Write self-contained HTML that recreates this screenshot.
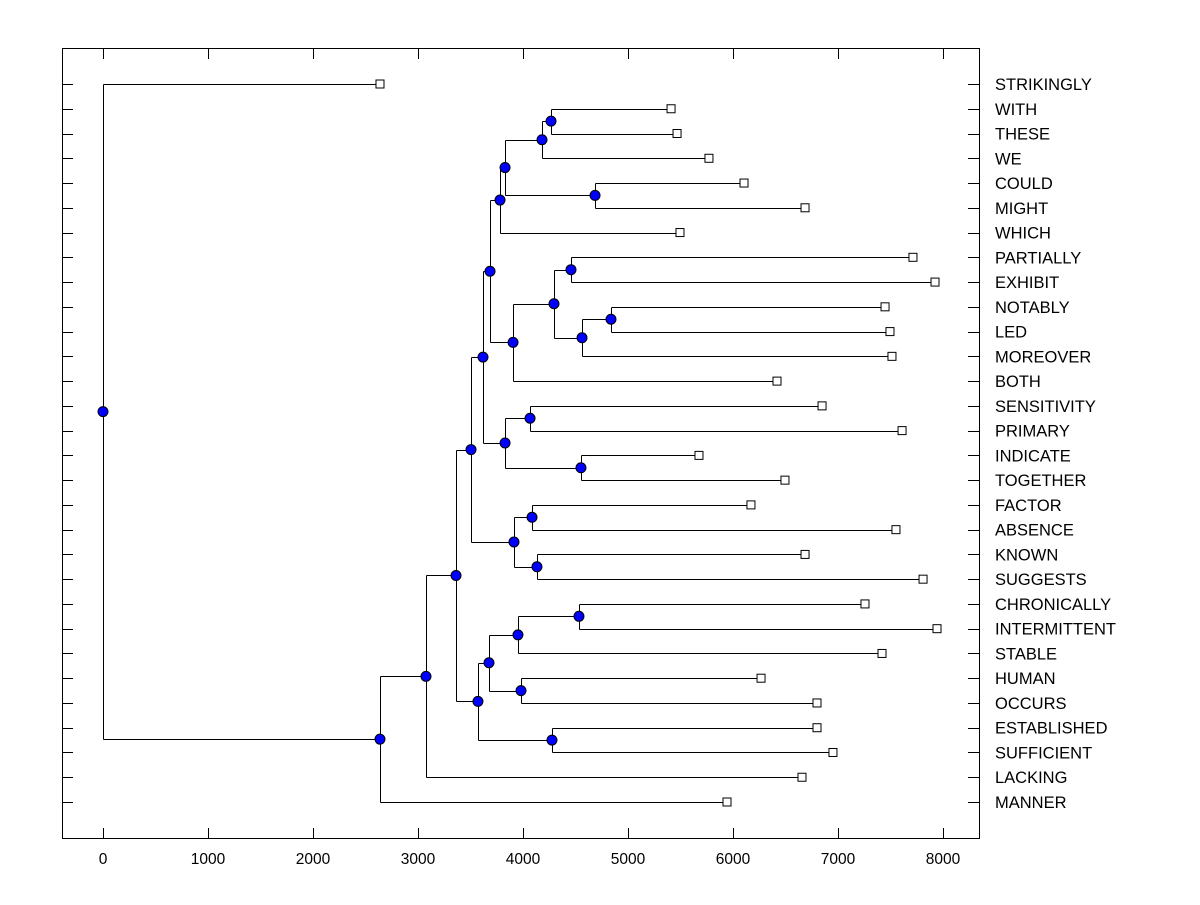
<!DOCTYPE html>
<html><head><meta charset="utf-8"><style>
body{margin:0;background:#fff}
svg text{font-family:"Liberation Sans",Arial,sans-serif}
</style></head><body>
<svg id="chart" width="1200" height="900" xmlns="http://www.w3.org/2000/svg">
<rect x="62.5" y="48.5" width="917" height="790" fill="none" stroke="#000" stroke-width="1"/>
</svg>
<script>
const leafLabels=["STRIKINGLY","WITH","THESE","WE","COULD","MIGHT","WHICH","PARTIALLY","EXHIBIT","NOTABLY","LED","MOREOVER","BOTH","SENSITIVITY","PRIMARY","INDICATE","TOGETHER","FACTOR","ABSENCE","KNOWN","SUGGESTS","CHRONICALLY","INTERMITTENT","STABLE","HUMAN","OCCURS","ESTABLISHED","SUFFICIENT","LACKING","MANNER"];
const leafValues=[2638,5410,5467,5771,6105,6686,5495,7714,7924,7448,7495,7514,6419,6848,7610,5676,6495,6171,7552,6686,7810,7257,7943,7419,6267,6800,6800,6952,6657,5943];
// merges: node 30+k joins mergeLeft[k] and mergeRight[k] at mergeHeights[k]
const mergeLeft=[1,30,4,31,33,7,9,36,35,38,34,13,15,41,40,17,19,45,44,21,49,24,50,26,52,48,55,56,0];
const mergeRight=[2,3,5,32,6,8,10,11,37,12,39,14,16,42,43,18,20,46,47,22,23,25,51,27,53,54,28,29,57];
const mergeHeights=[4267,4181,4686,3829,3781,4457,4838,4562,4295,3905,3686,4067,4552,3829,3619,4086,4133,3914,3505,4533,3952,3981,3676,4276,3571,3362,3076,2638,0];
const xTicks=[0,1000,2000,3000,4000,5000,6000,7000,8000];

const svg=document.getElementById('chart');
const NS='http://www.w3.org/2000/svg';
const X0=103, XS=0.105, Y0=84, YS=(802-84)/29;
const xs=v=>X0+v*XS, ys=i=>Y0+i*YS;
function mk(t,a){const e=document.createElementNS(NS,t);for(const k in a)e.setAttribute(k,a[k]);svg.appendChild(e);return e;}

const N=leafLabels.length;
const px=[],py=[];
for(let i=0;i<N;i++){px[i]=xs(leafValues[i]);py[i]=ys(i);}
mergeHeights.forEach((h,k)=>{const id=N+k;px[id]=xs(h);py[id]=(py[mergeLeft[k]]+py[mergeRight[k]])/2;});
for(let i=0;i<N;i++){
 const y=Math.round(ys(i))+0.5;
 const t1=mk('line',{x1:62,x2:73,y1:y,y2:y,stroke:'#000'});
 
 
 const t2=mk('line',{x1:968,x2:979,y1:y,y2:y,stroke:'#000'});
 
 
 const lb=mk('text',{x:995,y:ys(i)+6,'font-size':16.5});
 lb.textContent=leafLabels[i];
 
 
}
xTicks.forEach(v=>{
 const x=Math.round(xs(v))+0.5;
 const b=mk('line',{x1:x,x2:x,y1:828,y2:838,stroke:'#000'});
 
 
 const t=mk('line',{x1:x,x2:x,y1:49,y2:59,stroke:'#000'});
 
 
 const l=mk('text',{x:xs(v),y:864,'font-size':15.5,'text-anchor':'middle'});
 l.textContent=v;
 
 
});
mergeHeights.forEach((h,k)=>{
 const id=N+k,x=Math.round(px[id])+0.5,a=mergeLeft[k],b=mergeRight[k];
 const v=mk('line',{x1:x,x2:x,y1:Math.round(py[a])+0.5,y2:Math.round(py[b])+0.5,stroke:'#000'});
 
 
 [a,b].forEach(c=>{
  const y=Math.round(py[c])+0.5;
  const hl=mk('line',{x1:x,x2:px[c],y1:y,y2:y,stroke:'#000'});
  
  
 });
});
for(let i=0;i<N;i++){
 const r=mk('rect',{x:px[i]-4,y:py[i]-4,width:8,height:8,fill:'#fff',stroke:'#000'});
 
 
}
mergeHeights.forEach((h,k)=>{
 const id=N+k;
 const c=mk('circle',{cx:px[id],cy:py[id],r:5,fill:'#0000ff',stroke:'#000'});
 
 
});
</script>
</body></html>
